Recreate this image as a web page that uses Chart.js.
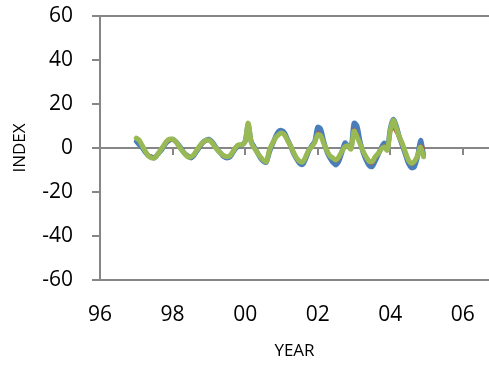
<!DOCTYPE html>
<html><head><meta charset="utf-8">
<script src="https://cdn.jsdelivr.net/npm/chart.js@4.4.0/dist/chart.umd.min.js"></script>
<style>html,body{margin:0;padding:0;background:#fff;}#wrap{width:489px;height:365px;}</style>
</head><body><div id="wrap"><canvas id="c" width="489" height="365"></canvas></div>
<script>
const startYear = 1997;
const xTickValues = [1996, 1998, 2000, 2002, 2004, 2006];
const yTickValues = [-60, -40, -20, 0, 20, 40, 60];

const blue = [
  3, 1.5, 0, -2, -3.5, -4, -4.5, -3, -1.5, 0.5, 2.5, 3.5,
  4, 3, 1.5, -0.5, -2.5, -3.5, -4.5, -3.5, -1.5, 0.5, 2.5, 3.5,
  4, 3, 1, -1, -2.5, -4, -4.5, -4, -2, 0, 1, 1.5,
  3, 10.5, 3, 0.5, -2, -4.5, -6, -6.5, -2, 1.5, 5, 7.5,
  8, 7, 4, 1, -2.5, -5, -7, -7.5, -5, -1.5, 1, 3,
  9.5, 8.5, 3, -1.5, -4.5, -6.5, -7.7, -6, -2, 2.3, 1, 0,
  11.3, 10, 3, -2, -5.5, -8, -8.5, -6, -3, 0, 2.3, -0.5,
  9, 13, 10, 5, 1, -3, -7, -9, -8.5, -4, 3.5, -3
];
const red = [
  4.5, 3, 1, -1.5, -3, -4, -4, -3, -1, 1, 2.5, 3.5,
  3.5, 2.5, 1, -1, -2.5, -3.5, -4, -3, -1, 0.5, 2, 3,
  3.5, 2.5, 0.5, -1, -2.5, -3.5, -4, -3.5, -1.5, 0, 1, 1.5,
  3, 10, 2.5, 0, -2, -4, -5.5, -6, -1.5, 2, 4.5, 6,
  7, 6, 3.5, 0.5, -2, -4.5, -6, -6.5, -4, -1, 0.5, 2.5,
  7, 6, 2, -1, -3.5, -5, -6, -5, -1.5, 1, 1, 0,
  8.5, 6.5, 2, -1.5, -4.5, -6.5, -7, -5, -2.5, 0, 1, -0.5,
  7, 9, 7, 4, 1, -2.5, -6, -7.5, -6.5, -3, 1, 0
];
const green = [
  4.5, 3.5, 1, -1.5, -3.5, -4.5, -4.5, -3, -1, 1, 3, 4,
  4, 3, 1, -1, -2.5, -4, -4, -3, -1, 1, 2.5, 3.5,
  3.6, 2.5, 0.5, -1, -2.5, -3.5, -4, -3.5, -1.5, 0.5, 1.5, 1.5,
  3, 11.3, 2.5, 0, -2, -4, -5.5, -6.2, -1, 2, 4.5, 6,
  6.8, 6, 3.5, 1, -2, -4.5, -6, -6.4, -4, -1, 0.5, 2.5,
  6, 5.5, 2, -1, -3.5, -4.5, -5.5, -4, -1.5, 0.5, 1, -0.5,
  7.7, 5, 2, -1.5, -4, -6, -6.2, -4, -2.5, -0.5, 0.5, -1,
  8, 12.7, 9, 5, 2, -2, -5.5, -7, -6, -3.5, 0.5, -4
];
const months = blue.map((_, i) => startYear + i / 12);
const toPts = arr => arr.map((v, i) => ({ x: months[i], y: v }));

const AX = '#868686';
const FONT = 'Open Sans';

const zeroTicks = {
  id: 'zeroTicks',
  beforeDatasetsDraw(chart) {
    const { ctx, scales: { x, y } } = chart;
    const y0 = y.getPixelForValue(0);
    ctx.save();
    ctx.strokeStyle = AX;
    ctx.lineWidth = 2;
    xTickValues.forEach(v => {
      const px = Math.round(x.getPixelForValue(v));
      ctx.beginPath();
      ctx.moveTo(px, y0);
      ctx.lineTo(px, y0 + 7);
      ctx.stroke();
    });
    ctx.restore();
  }
};

new Chart(document.getElementById('c'), {
  type: 'line',
  data: {
    datasets: [
      { label: 'A', data: toPts(blue), borderColor: '#4A7EBB', borderWidth: 5, order: 3 },
      { label: 'B', data: toPts(red), borderColor: '#BE4B48', borderWidth: 3, order: 2 },
      { label: 'C', data: toPts(green), borderColor: '#98B954', borderWidth: 5, order: 1 }
    ]
  },
  options: {
    responsive: false,
    animation: false,
    devicePixelRatio: 1,
    layout: { padding: { top: 16, right: 0, left: 0, bottom: 0 } },
    elements: { point: { radius: 0 }, line: { tension: 0.3, fill: false, borderCapStyle: 'round', borderJoinStyle: 'round' } },
    plugins: { legend: { display: false }, tooltip: { enabled: false } },
    scales: {
      x: {
        type: 'linear',
        min: 1996,
        max: 2006.72,
        afterBuildTicks: s => { s.ticks = xTickValues.map(v => ({ value: v })); },
        afterFit: s => { s.height = 85; s.paddingLeft = 0; s.paddingRight = 0; },
        grid: { display: false, drawTicks: false },
        border: { display: true, color: AX, width: 2 },
        ticks: {
          padding: 22,
          color: '#000',
          font: { family: FONT, size: 21 },
          maxRotation: 0,
          callback: v => String(v % 100).padStart(2, '0')
        },
        title: { display: true, text: 'YEAR', color: '#000', font: { family: FONT, size: 17 }, padding: { top: 0, bottom: 4 } }
      },
      y: {
        min: -60,
        max: 60,
        afterBuildTicks: s => { s.ticks = yTickValues.map(v => ({ value: v })); },
        afterFit: s => { s.width = 100; s.paddingTop = 0; s.paddingBottom = 0; },
        grid: {
          color: c => (c.tick && (c.tick.value === 0 || c.tick.value === 60)) ? AX : 'rgba(0,0,0,0)',
          lineWidth: 2,
          tickColor: AX,
          tickLength: 8,
          tickWidth: 2
        },
        border: { display: true, color: AX, width: 2 },
        ticks: {
          padding: 19,
          color: '#000',
          font: { family: FONT, size: 21 },
          callback: v => String(v)
        },
        title: { display: true, text: 'INDEX', color: '#000', font: { family: FONT, size: 17 }, padding: { top: 10, bottom: 0 } }
      }
    }
  },
  plugins: [zeroTicks]
});
</script></body></html>
